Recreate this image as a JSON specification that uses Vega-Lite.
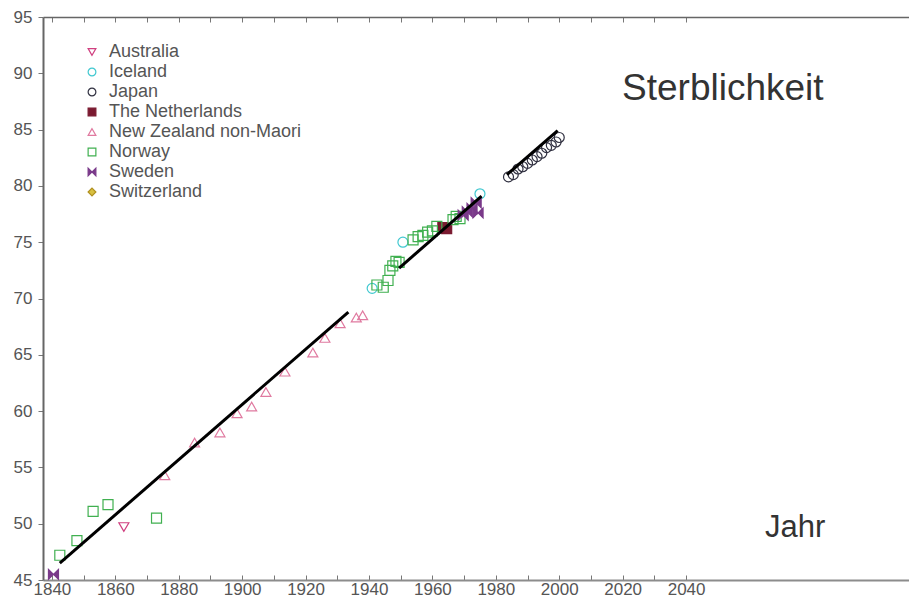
{
  "$schema": "https://vega.github.io/schema/vega-lite/v6.json",
  "width": 866,
  "height": 563,
  "autosize": "none",
  "padding": {"left": 43, "top": 17, "right": 0, "bottom": 25},
  "background": "white",
  "config": {
    "view": {"stroke": null},
    "axis": {"labelFont": "Liberation Sans", "labelFontSize": 17, "labelColor": "#555", "domainColor": "#777", "tickColor": "#777", "grid": false},
    "legend": {"labelFont": "Liberation Sans", "labelFontSize": 18, "labelColor": "#555", "symbolSize": 60, "symbolStrokeWidth": 1.2, "rowPadding": 2, "labelOffset": 8, "labelLimit": 400}
  },
  "datasets": {
    "pts": [
      {"country": "Australia", "year": 1862.7, "e0": 49.7},
      {"country": "Iceland", "year": 1941, "e0": 70.9},
      {"country": "Iceland", "year": 1950.7, "e0": 75.0},
      {"country": "Iceland", "year": 1975, "e0": 79.3},
      {"country": "Japan", "year": 1984, "e0": 80.8},
      {"country": "Japan", "year": 1985.5, "e0": 81.0},
      {"country": "Japan", "year": 1987, "e0": 81.5},
      {"country": "Japan", "year": 1988.5, "e0": 81.7},
      {"country": "Japan", "year": 1990, "e0": 82.0},
      {"country": "Japan", "year": 1991.5, "e0": 82.3},
      {"country": "Japan", "year": 1993, "e0": 82.6},
      {"country": "Japan", "year": 1994.5, "e0": 82.9},
      {"country": "Japan", "year": 1996, "e0": 83.4},
      {"country": "Japan", "year": 1997.5, "e0": 83.6},
      {"country": "Japan", "year": 1999, "e0": 83.9},
      {"country": "Japan", "year": 2000, "e0": 84.3},
      {"country": "The Netherlands", "year": 1963.3, "e0": 76.3},
      {"country": "The Netherlands", "year": 1964.5, "e0": 76.2},
      {"country": "New Zealand non-Maori", "year": 1875.6, "e0": 54.3},
      {"country": "New Zealand non-Maori", "year": 1885, "e0": 57.2},
      {"country": "New Zealand non-Maori", "year": 1893, "e0": 58.1},
      {"country": "New Zealand non-Maori", "year": 1898.4, "e0": 59.8},
      {"country": "New Zealand non-Maori", "year": 1903, "e0": 60.4},
      {"country": "New Zealand non-Maori", "year": 1907.5, "e0": 61.7},
      {"country": "New Zealand non-Maori", "year": 1913.5, "e0": 63.5},
      {"country": "New Zealand non-Maori", "year": 1922.3, "e0": 65.2},
      {"country": "New Zealand non-Maori", "year": 1926.1, "e0": 66.5},
      {"country": "New Zealand non-Maori", "year": 1930.9, "e0": 67.8},
      {"country": "New Zealand non-Maori", "year": 1936, "e0": 68.3},
      {"country": "New Zealand non-Maori", "year": 1938, "e0": 68.5},
      {"country": "Norway", "year": 1842.5, "e0": 47.2},
      {"country": "Norway", "year": 1847.9, "e0": 48.5},
      {"country": "Norway", "year": 1853, "e0": 51.1},
      {"country": "Norway", "year": 1857.7, "e0": 51.7},
      {"country": "Norway", "year": 1873, "e0": 50.5},
      {"country": "Norway", "year": 1942.5, "e0": 71.2},
      {"country": "Norway", "year": 1944.5, "e0": 71.0},
      {"country": "Norway", "year": 1946, "e0": 71.6},
      {"country": "Norway", "year": 1946.6, "e0": 72.5},
      {"country": "Norway", "year": 1947.5, "e0": 72.9},
      {"country": "Norway", "year": 1948.5, "e0": 73.3},
      {"country": "Norway", "year": 1949.5, "e0": 73.2},
      {"country": "Norway", "year": 1953.9, "e0": 75.2},
      {"country": "Norway", "year": 1955.5, "e0": 75.5},
      {"country": "Norway", "year": 1957, "e0": 75.6},
      {"country": "Norway", "year": 1958.5, "e0": 75.9},
      {"country": "Norway", "year": 1960, "e0": 76.0},
      {"country": "Norway", "year": 1961.4, "e0": 76.4},
      {"country": "Norway", "year": 1966.5, "e0": 77.0},
      {"country": "Norway", "year": 1967.5, "e0": 77.3},
      {"country": "Norway", "year": 1968.7, "e0": 77.1},
      {"country": "Sweden", "year": 1840.5, "e0": 45.5},
      {"country": "Sweden", "year": 1969.7, "e0": 77.4},
      {"country": "Sweden", "year": 1971, "e0": 77.7},
      {"country": "Sweden", "year": 1972.5, "e0": 78.0},
      {"country": "Sweden", "year": 1973.8, "e0": 78.5},
      {"country": "Sweden", "year": 1974.4, "e0": 77.6}
    ],
    "fit": [
      {"segment": "a", "year": 1842.5, "e0": 46.5},
      {"segment": "a", "year": 1933.5, "e0": 68.8},
      {"segment": "b", "year": 1949.5, "e0": 72.7},
      {"segment": "b", "year": 1975.5, "e0": 79.1},
      {"segment": "c", "year": 1983.5, "e0": 81.0},
      {"segment": "c", "year": 1999.5, "e0": 84.9}
    ],
    "title1": [{"label": "Sterblichkeit", "year": 2019.8, "e0": 87.6}],
    "title2": [{"label": "Jahr", "year": 2064.9, "e0": 48.8}]
  },
  "layer": [
    {
      "data": {"name": "pts"},
      "mark": {"type": "point", "filled": false, "strokeWidth": 1.2, "size": 100, "opacity": 1},
      "encoding": {
        "x": {"field": "year", "type": "quantitative", "scale": {"domain": [1837.2, 2110.3], "nice": false, "zero": false},
              "axis": {"orient": "bottom", "title": null, "values": [1840,1850,1860,1870,1880,1890,1900,1910,1920,1930,1940,1950,1960,1970,1980,1990,2000,2010,2020,2030,2040], "format": "d", "labelExpr": "datum.value % 20 == 0 ? datum.label : ''", "tickSize": -5, "labelPadding": 6, "domainWidth": 2, "domainColor": "#8c8c8c", "labelFlush": false, "labelOverlap": false}},
        "y": {"field": "e0", "type": "quantitative", "scale": {"domain": [45, 95], "nice": false, "zero": false},
              "axis": {"title": null, "values": [45,47.5,50,52.5,55,57.5,60,62.5,65,67.5,70,72.5,75,77.5,80,82.5,85,87.5,90,92.5,95], "labelExpr": "datum.value % 5 == 0 ? format(datum.value, 'd') : ''", "tickSize": 5, "labelPadding": 6, "domainWidth": 2, "domainColor": "#666", "labelFlush": false, "labelOverlap": false}},
        "stroke": {"field": "country", "type": "nominal", "title": null,
                   "scale": {"domain": ["Australia","Iceland","Japan","The Netherlands","New Zealand non-Maori","Norway","Sweden","Switzerland"],
                             "range": ["#d04080","#40c8d0","#303040","#7a1a30","#e07aa0","#40b050","#7a3a8a","#b09020"]},
                   "legend": {"orient": "none", "legendX": 40, "legendY": 26}},
        "fill": {"field": "country", "type": "nominal", "title": null,
                 "scale": {"domain": ["Australia","Iceland","Japan","The Netherlands","New Zealand non-Maori","Norway","Sweden","Switzerland"],
                           "range": ["transparent","transparent","transparent","#7a1a30","transparent","transparent","#7a3a8a","#d8c040"]},
                 "legend": {"orient": "none", "legendX": 40, "legendY": 26}},
        "shape": {"field": "country", "type": "nominal", "title": null,
                  "scale": {"domain": ["Australia","Iceland","Japan","The Netherlands","New Zealand non-Maori","Norway","Sweden","Switzerland"],
                            "range": ["triangle-down","circle","circle","square","triangle-up","square","M-1,-1L1,1L1,-1L-1,1Z","diamond"]},
                  "legend": {"orient": "none", "legendX": 40, "legendY": 26}}
      }
    },
    {
      "data": {"name": "fit"},
      "mark": {"type": "line", "color": "black", "strokeWidth": 3},
      "encoding": {
        "x": {"field": "year", "type": "quantitative",
              "axis": {"orient": "top", "title": null, "labels": false, "values": [1840,1850,1860,1870,1880,1890,1900,1910,1920,1930,1940,1950,1960,1970,1980,1990,2000,2010,2020,2030,2040], "tickSize": -5, "domainWidth": 1.5, "domainColor": "#666"}},
        "y": {"field": "e0", "type": "quantitative"},
        "detail": {"field": "segment"}
      }
    },
    {
      "data": {"name": "title1"},
      "mark": {"type": "text", "align": "left", "baseline": "alphabetic", "font": "Liberation Sans", "fontSize": 37, "color": "#333"},
      "encoding": {
        "x": {"field": "year", "type": "quantitative", "axis": null},
        "y": {"field": "e0", "type": "quantitative"},
        "text": {"field": "label"}
      }
    },
    {
      "data": {"name": "title2"},
      "mark": {"type": "text", "align": "left", "baseline": "alphabetic", "font": "Liberation Sans", "fontSize": 31, "color": "#333"},
      "encoding": {
        "x": {"field": "year", "type": "quantitative", "axis": null},
        "y": {"field": "e0", "type": "quantitative"},
        "text": {"field": "label"}
      }
    }
  ]
}
